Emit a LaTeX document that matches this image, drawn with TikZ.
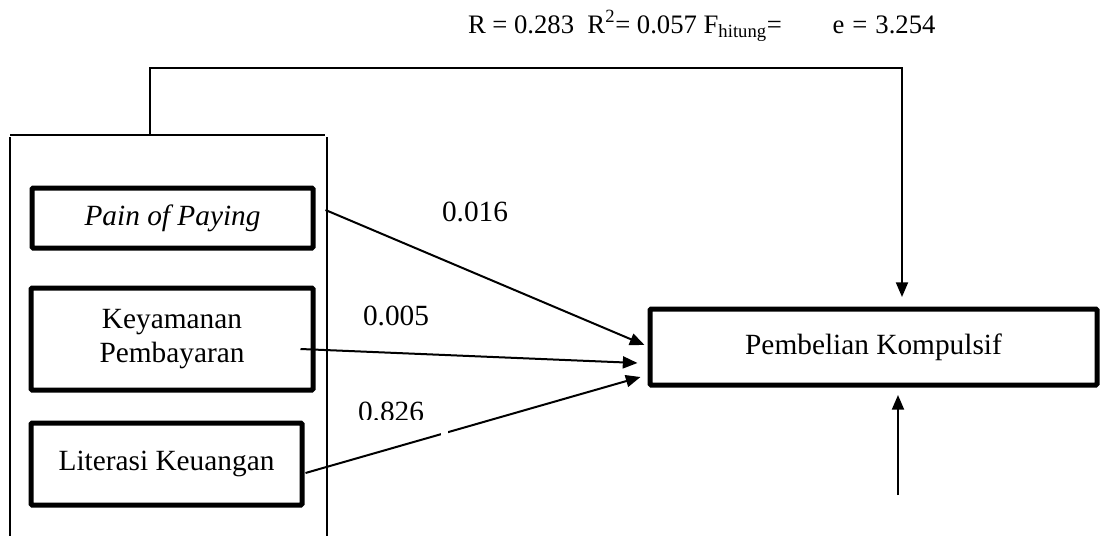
\documentclass[tikz,border=0pt]{standalone}
\usepackage{fontspec}
\setmainfont{Liberation Serif}
\usetikzlibrary{arrows.meta,calc}

\tikzset{every picture/.style={line width=1.5pt}}
\tikzset{
  varbox/.style={draw,line width=3.75pt,rounded corners=0.8pt,align=center,inner sep=0pt},
  link/.style={-{Triangle[length=11pt,width=9pt]}},
  coef/.style={inner sep=0.75pt}
}

\begin{document}
\begin{tikzpicture}[x=0.75pt,y=0.75pt,yscale=-1,xscale=1]
\fontsize{22}{26}\selectfont
\useasboundingbox (0,0) rectangle (1101,536);

% Variables
\node [varbox,minimum width=210.75pt,minimum height=45pt] (pain) at (172.5,218) {\textit{Pain of Paying}};
\node [varbox,minimum width=211.5pt,minimum height=76.5pt] (keamanan) at (172,339) {Keyamanan\\Pembayaran};
\node [varbox,minimum width=203.25pt,minimum height=61.5pt] (literasi) at (166.5,464) {Literasi Keuangan};
\node [varbox,minimum width=335.25pt,minimum height=57pt] (kompulsif) at (873.5,347) {Pembelian Kompulsif};

% Group frame
\coordinate (grpTL) at (10,135);
\coordinate (grpTR) at (325,135);
\coordinate (grpTop) at (150,135);
\draw (grpTL) -- (grpTR);
\draw (10,137) -- (10,536);
\draw (327,137) -- (327,536);

% Simultaneous effect
\coordinate (simA) at (150,68);
\coordinate (simB) at (902,68);
\coordinate (simTip) at (902,297);
\draw [link] (grpTop) -- (simA) -- (simB) -- (simTip);

% Partial effects
\draw [link] ($(pain.east)+(10,-8)$) -- ($(kompulsif.west)+(-3,-2)$);
\draw [link] ($(keamanan.east)+(-15,10)$) -- ($(kompulsif.west)+(-10,16)$);
\draw [link] ($(literasi.east)+(1,9)$) -- ($(kompulsif.west)+(-7,30)$);
\fill [white] (441,429) rectangle (448,437);

% Residual
\coordinate (resid) at (898,495);
\draw [link] (resid) -- (898,395);

% Coefficients
\node [coef] (c1) at (475,212) {0.016};
\node [coef] (c2) at (396,316) {0.005};
\begin{scope}
  \clip (340,380) rectangle (460,419);
  \node [coef] (c3) at (391,412) {0.826};
\end{scope}

% Model summary
\node [coef,anchor=base west,font=\fontsize{20}{24}\selectfont] (summary) at (466,33)
  {R = 0.283\ \ R\textsuperscript{2}= 0.057 F\textsubscript{hitung}=\hspace{38pt}e\hspace{6pt}=\hspace{6pt}3.254};

\end{tikzpicture}
\end{document}
